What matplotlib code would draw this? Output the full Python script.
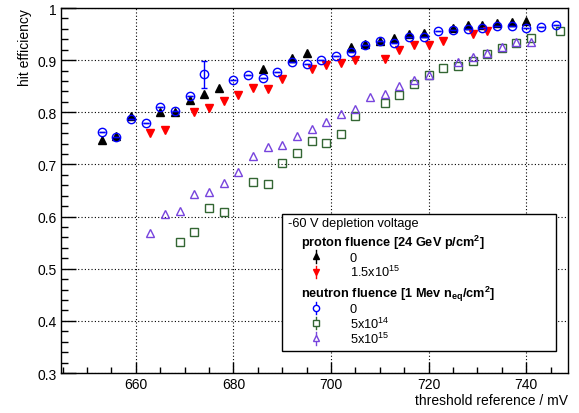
import matplotlib
matplotlib.use("Agg")
import matplotlib.pyplot as plt
from matplotlib.patches import Rectangle
from matplotlib.ticker import MultipleLocator

plt.rcParams['font.family'] = ['Liberation Sans', 'DejaVu Sans']
plt.rcParams['mathtext.fontset'] = 'custom'
plt.rcParams['mathtext.rm'] = 'Liberation Sans'
plt.rcParams['mathtext.it'] = 'Liberation Sans:italic'
plt.rcParams['mathtext.bf'] = 'Liberation Sans:bold'

# proton fluence 0
p0_x = [653, 656, 659, 665, 668, 671, 674, 677, 686, 692, 695, 704, 707, 710,
        713, 716, 719, 725, 728, 731, 734, 737, 740]
p0_y = [0.747, 0.754, 0.793, 0.801, 0.800, 0.824, 0.836, 0.847, 0.883, 0.905,
        0.914, 0.925, 0.931, 0.937, 0.942, 0.951, 0.952, 0.962, 0.967, 0.967,
        0.971, 0.974, 0.976]

# proton fluence 1.5e15
p15_x = [663, 666, 672, 675, 678, 681, 684, 687, 690, 696, 699, 702, 705, 711,
         714, 717, 720, 723, 729, 732]
p15_y = [0.760, 0.766, 0.800, 0.809, 0.822, 0.833, 0.846, 0.845, 0.864, 0.883,
         0.890, 0.894, 0.900, 0.903, 0.920, 0.929, 0.930, 0.937, 0.951, 0.956]

# neutron fluence 0
n0_x = [653, 656, 659, 662, 665, 668, 671, 674, 680, 683, 686, 689, 692, 695,
        698, 701, 704, 707, 710, 713, 716, 719, 722, 725, 728, 731, 734, 737,
        740, 743, 746]
n0_y = [0.763, 0.753, 0.787, 0.779, 0.811, 0.803, 0.831, 0.873, 0.862, 0.871,
        0.866, 0.877, 0.896, 0.893, 0.901, 0.908, 0.915, 0.929, 0.937, 0.933,
        0.945, 0.945, 0.955, 0.958, 0.960, 0.962, 0.966, 0.965, 0.961, 0.964,
        0.967]
n0_err = [0, 0, 0, 0, 0, 0, 0, 0.026, 0, 0, 0, 0, 0, 0, 0, 0, 0, 0, 0, 0, 0,
          0, 0, 0, 0, 0, 0, 0, 0, 0, 0]

# neutron fluence 5e14
n14_x = [669, 672, 675, 678, 684, 687, 690, 693, 696, 699, 702, 705, 711, 714,
         717, 720, 723, 726, 729, 732, 735, 738, 741, 747]
n14_y = [0.552, 0.571, 0.616, 0.609, 0.666, 0.663, 0.702, 0.721, 0.745, 0.741,
         0.758, 0.793, 0.818, 0.834, 0.855, 0.871, 0.885, 0.888, 0.899, 0.912,
         0.923, 0.932, 0.942, 0.955]

# neutron fluence 5e15
n15_x = [663, 666, 669, 672, 675, 678, 681, 684, 687, 690, 693, 696, 699, 702,
         705, 708, 711, 714, 717, 720, 726, 729, 732, 735, 738, 741]
n15_y = [0.569, 0.605, 0.611, 0.643, 0.647, 0.665, 0.685, 0.717, 0.733, 0.738,
         0.754, 0.768, 0.781, 0.796, 0.807, 0.829, 0.835, 0.850, 0.862, 0.871,
         0.896, 0.907, 0.914, 0.925, 0.935, 0.935]

C_BLACK = '#000000'
C_RED = '#ff0000'
C_BLUE = '#0000ff'
C_GREEN = '#336633'
C_VIOLET = '#7744dd'

fig = plt.figure(figsize=(5.79, 4.14), dpi=100)
ax = fig.add_axes([0.1048, 0.0966, 0.8757, 0.8816])

ax.set_xlim(644.6, 748.5)
ax.set_ylim(0.3, 1.0)

ax.grid(True, which='major', color='black', linestyle=(0, (1, 2)), linewidth=0.8)
ax.set_axisbelow(True)

ms = 6
ax.plot(p0_x, p0_y, linestyle='none', marker='^', ms=ms, color=C_BLACK, zorder=3)
ax.plot(p15_x, p15_y, linestyle='none', marker='v', ms=ms, color=C_RED, zorder=3)
ax.plot(n14_x, n14_y, linestyle='none', marker='s', ms=ms - 0.5, mfc='none',
        mec=C_GREEN, mew=1.0, zorder=4)
ax.plot(n15_x, n15_y, linestyle='none', marker='^', ms=ms, mfc='none',
        mec=C_VIOLET, mew=1.0, zorder=4)
ax.errorbar(n0_x, n0_y, yerr=n0_err, linestyle='none', marker='o', ms=ms,
            mfc='none', mec=C_BLUE, mew=1.0, ecolor=C_BLUE, elinewidth=1.0,
            capsize=2, zorder=5)

# axes styling
for s in ax.spines.values():
    s.set_linewidth(1.0)
ax.xaxis.set_major_locator(MultipleLocator(20))
ax.xaxis.set_minor_locator(MultipleLocator(5))
ax.yaxis.set_major_locator(MultipleLocator(0.1))
ax.yaxis.set_minor_locator(MultipleLocator(0.02))
ax.tick_params(axis='x', which='major', direction='in', length=8, width=1,
               labelsize=10, pad=3)
ax.tick_params(axis='x', which='minor', direction='in', length=4, width=1)
ax.tick_params(axis='y', which='major', direction='in', length=10.5, width=1,
               labelsize=10, pad=3)
ax.tick_params(axis='y', which='minor', direction='in', length=5.3, width=1)
ax.set_yticks([0.3, 0.4, 0.5, 0.6, 0.7, 0.8, 0.9, 1.0])
ax.set_yticklabels(['0.3', '0.4', '0.5', '0.6', '0.7', '0.8', '0.9', '1'])

ax.set_xlabel('threshold reference / mV', fontsize=10, loc='right', labelpad=1)
ax.set_ylabel('hit efficiency', fontsize=10, loc='top', labelpad=4)

# legend box
bx0, by0, bw, bh = 0.437, 0.061, 0.539, 0.375
ax.add_patch(Rectangle((bx0, by0), bw, bh, transform=ax.transAxes,
                       facecolor='white', edgecolor='black', linewidth=1.0,
                       zorder=10))

fs = 9.2
off = 0.0125
ax.text(0.449, 0.4145 - off, '-60 V depletion voltage', transform=ax.transAxes,
        fontsize=fs, va='baseline', ha='left', zorder=11)
ax.text(0.474, 0.3597 - off, r'proton fluence [24 GeV p/cm$^{\mathbf{2}}$]',
        transform=ax.transAxes, fontsize=fs, fontweight='bold',
        va='baseline', ha='left', zorder=11)
ax.text(0.474, 0.2211 - off,
        r'neutron fluence [1 Mev n$_{\mathbf{eq}}$/cm$^{\mathbf{2}}$]',
        transform=ax.transAxes, fontsize=fs, fontweight='bold',
        va='baseline', ha='left', zorder=11)

entries = [
    (0.3197, '0', '^', C_BLACK, True),
    (0.2775, r'1.5x10$^{15}$', 'v', C_RED, True),
    (0.1789, '0', 'o', C_BLUE, False),
    (0.1370, r'5x10$^{14}$', 's', C_GREEN, False),
    (0.0951, r'5x10$^{15}$', '^', C_VIOLET, False),
]
mx, tx = 0.5036, 0.5706
for yy, label, mk, col, filled in entries:
    ax.plot([mx, mx], [yy - 0.017, yy + 0.017], transform=ax.transAxes,
            color=col, linewidth=1.0, zorder=11)
    ax.plot([mx], [yy], transform=ax.transAxes, linestyle='none', marker=mk,
            ms=4.5, mfc=col if filled else 'white', mec=col, mew=1.0,
            zorder=12)
    ax.text(tx, yy - off, label, transform=ax.transAxes, fontsize=fs,
            va='baseline', ha='left', zorder=11)

fig.savefig('out.png', dpi=100)
